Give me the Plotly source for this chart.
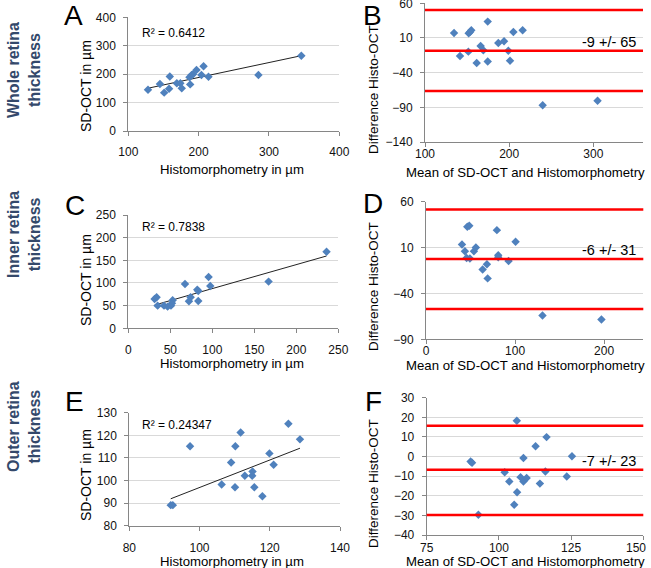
import plotly.graph_objects as go

W, H = 651, 568
FONT = "Liberation Sans, Arial, sans-serif"

# ---------------- data ----------------
# Panel A: whole retina (Histomorphometry vs SD-OCT)
a_histo = [128, 145, 151, 158, 159, 169, 174, 176, 188, 187, 190, 192, 197, 204, 207, 214, 285, 346]
a_oct = [145, 165, 135, 149, 192, 168, 168, 150, 164, 189, 197, 200, 215, 197, 228, 191, 197, 265]
a_fit = (0.525, 83.3)
a_r2 = "R\u00b2 = 0.6412"

# Panel B: Bland-Altman whole retina
b_mean = [134.5, 141.6, 151.5, 151.9, 153.5, 155, 161.4, 166.1, 169.3, 174.5, 174.5, 187.1, 193.9, 199, 201, 205, 216, 239.8, 305]
b_diff = [17.2, -16, -9.7, 16.7, 18.7, 21, -26, -1.5, -7.8, 33.6, -24, 2.8, 5.2, -8.3, -22.7, 18.7, 21, -87, -80.4]
b_limits = [50.4, -8.5, -66.5]
b_label = "-9 +/- 65"

# Panel C: inner retina
c_histo = [31.3, 33.7, 34.9, 42.5, 46.8, 50.8, 52.8, 52, 67.5, 72.2, 74.2, 82.1, 83.3, 83.3, 95.6, 97.6, 167, 236]
c_oct = [64.7, 68.4, 50, 50, 47.8, 50, 61.8, 55, 97.8, 59.6, 68.4, 85.3, 82.4, 60.3, 113, 93.4, 103, 169]
c_fit = (0.529, 34.7)
c_r2 = "R\u00b2 = 0.7838"

# Panel D: Bland-Altman inner retina
d_mean = [40.4, 43.7, 45.6, 46.4, 48.6, 49.3, 53.8, 56, 63.6, 68.4, 69.2, 79.6, 81.1, 81.1, 92.7, 100.6, 130.8, 197]
d_diff = [13.3, 6, -1.3, 32.7, 33.8, -2, 6, 10, -14, -8.2, -23.6, 29, 1.6, -0.6, -4.7, 16.4, -64, -68.4]
d_limits = [51.6, -2.5, -57.1]
d_label = "-6 +/- 31"

# Panel E: outer retina
e_histo = [91.8, 92.4, 97.3, 106.3, 109, 110.1, 110.2, 111.7, 112.9, 115, 115.1, 115.6, 117.9, 119.9, 121.1, 125.3, 128.6]
e_oct = [89.1, 89.1, 115.2, 98.2, 108, 97, 115.2, 121.2, 102.1, 102.1, 104, 97, 93, 112, 107, 125.1, 118.2]
e_fit = (0.608, 36.1)
e_r2 = "R\u00b2 = 0.24347"

# Panel F: Bland-Altman outer retina
f_mean = [90.2, 90.7, 92.9, 102, 103.6, 105.3, 106.2, 106.3, 107.5, 108.5, 108.5, 109.6, 112.7, 114.2, 116.1, 116.5, 123.5, 125.3]
f_diff = [-2.5, -3.2, -29.7, -8, -12.7, -24.6, 18.3, -18.2, -10.5, -0.7, -12.7, -10.9, 5.3, -13.8, -7.6, 9.9, -10.2, 0.2]
f_limits = [15.7, -6.7, -29.8]
f_label = "-7 +/- 23"
f_xticks = [75, 100, 125, 150]

row_labels = ["Whole retina<br>thickness", "Inner retina<br>thickness", "Outer retina<br>thickness"]
panel_letters = ["A", "B", "C", "D", "E", "F"]
x_titles = ["Histomorphometry in \u00b5m", "Mean of SD-OCT and Histomorphometry"]
y_titles = ["SD-OCT in \u00b5m", "Difference Histo-OCT"]

# ---------------- layout helpers ----------------
def px(x):
    return x / W

def py(y):
    return 1 - y / H

BLUE = "#4F81BD"
RED = "#FF0000"
AXC = "#868686"
GRID = "#D9D9D9"

# pixel boxes (left, right, top, bottom) and ranges / ticks per panel
panels = [
    dict(box=(128.3, 339.3, 17.3, 131.0), xr=[100, 400], xd=100, x0=100, yr=[0, 400], yd=100, y0=0, xs=6),
    dict(box=(425.0, 643.0, 3.3, 142.0), xr=[100, 359], xd=100, x0=100, yr=[-140, 60], yd=50, y0=-140, xs=-3),
    dict(box=(128.3, 338.3, 215.0, 328.3), xr=[0, 250], xd=50, x0=0, yr=[0, 250], yd=50, y0=0, xs=6),
    dict(box=(426.0, 643.3, 201.7, 339.3), xr=[0, 244], xd=100, x0=0, yr=[-90, 60], yd=50, y0=-90, xs=-4),
    dict(box=(129.3, 340.0, 412.7, 525.7), xr=[80, 140], xd=20, x0=80, yr=[80, 130], yd=10, y0=80, xs=7),
    dict(box=(426.7, 643.3, 397.7, 535.0), xr=[75, 150], xd=25, x0=75, yr=[-40, 30], yd=10, y0=-40, xs=-2),
]

fig = go.Figure()
layout = dict(
    width=W, height=H,
    margin=dict(l=0, r=0, t=0, b=0),
    paper_bgcolor="white", plot_bgcolor="white",
    showlegend=False,
    font=dict(family=FONT, color="#000000"),
)

TICKFONT = dict(size=12, family=FONT, color="#111111")
for i, p in enumerate(panels):
    n = "" if i == 0 else str(i + 1)
    l, r, t, b = p["box"]
    layout["xaxis" + n] = dict(
        domain=[px(l), px(r)], range=p["xr"], tick0=p["x0"], dtick=p["xd"],
        anchor="y" + n, showgrid=False, zeroline=False, showline=True,
        linecolor=AXC, linewidth=1, ticks="outside", ticklen=4, tickcolor=AXC,
        tickfont=TICKFONT, ticklabelstandoff=p["xs"], fixedrange=True, automargin=False,
        ticklabeloverflow="allow",
    )
    layout["yaxis" + n] = dict(
        domain=[py(b), py(t)], range=p["yr"], tick0=p["y0"], dtick=p["yd"],
        anchor="x" + n, showgrid=True, gridcolor=GRID, gridwidth=1, zeroline=False,
        showline=True, linecolor=AXC, linewidth=1, ticks="outside", ticklen=4,
        tickcolor=AXC, tickfont=TICKFONT, ticklabelstandoff=5, fixedrange=True,
        automargin=False, ticklabeloverflow="allow",
    )

# last F tick label is drawn as an annotation pulled inside the page edge
layout["xaxis6"].update(tickmode="array", tickvals=f_xticks,
                        ticktext=[str(v) for v in f_xticks[:-1]] + [""])

scatter_sets = [
    (a_histo, a_oct), (b_mean, b_diff), (c_histo, c_oct),
    (d_mean, d_diff), (e_histo, e_oct), (f_mean, f_diff),
]
fits = {0: (a_fit, a_histo, a_r2), 2: (c_fit, c_histo, c_r2), 4: (e_fit, e_histo, e_r2)}
limits = {1: (b_limits, b_label), 3: (d_limits, d_label), 5: (f_limits, f_label)}

shapes = []
annotations = []

for i, (xs, ys) in enumerate(scatter_sets):
    n = "" if i == 0 else str(i + 1)
    xa, ya = "x" + n, "y" + n
    if i in fits:
        (m, c), xsrc, r2 = fits[i]
        xmin, xmax = min(xsrc), max(xsrc)
        fig.add_trace(go.Scatter(
            x=[xmin, xmax], y=[m * xmin + c, m * xmax + c], mode="lines",
            line=dict(color="#222222", width=1), xaxis=xa, yaxis=ya, hoverinfo="skip"))
    if i in limits:
        lims, lab = limits[i]
        for v in lims:
            shapes.append(dict(type="line", xref=xa + " domain", yref=ya, x0=0, x1=1,
                               y0=v, y1=v, line=dict(color=RED, width=2.5), layer="above"))
    fig.add_trace(go.Scatter(
        x=xs, y=ys, mode="markers", xaxis=xa, yaxis=ya,
        marker=dict(symbol="diamond", size=6.5, color=BLUE, line=dict(width=0))))
    if i in limits:
        lims, lab = limits[i]
        annotations.append(dict(text=lab, xref=xa + " domain", yref=ya, x=1, y=lims[1],
                                xanchor="right", yanchor="bottom", xshift=-5, yshift=-1,
                                showarrow=False, font=dict(size=14.5, family=FONT, color="#000")))
    if i in fits:
        (m, c), xsrc, r2 = fits[i]
        r2_y = {0: 33, 2: 227, 4: 425}[i]
        annotations.append(dict(text=r2, xref="paper", yref="paper", x=px(140), y=py(r2_y),
                                xanchor="left", yanchor="middle", showarrow=False,
                                font=dict(size=12, family=FONT, color="#000")))

annotations.append(dict(text=str(f_xticks[-1]), xref="x6", yref="paper", x=f_xticks[-1],
                        y=py(548), xanchor="right", yanchor="middle", xshift=5,
                        showarrow=False, font=TICKFONT))

# panel letters
letter_pos = [(73, 15), (372, 15), (75, 205), (373, 203), (74, 402), (373, 402)]
for t, (x, y) in zip(panel_letters, letter_pos):
    annotations.append(dict(text=t, xref="paper", yref="paper", x=px(x), y=py(y),
                            xanchor="center", yanchor="middle", showarrow=False,
                            font=dict(size=28, family=FONT, color="#000")))

# axis titles
xt_pos = [(232, 169), (525, 172), (232, 363), (525, 365), (232, 561), (525, 561)]
yt_pos = [(86, 86), (373, 90), (86, 280), (373, 287), (86, 475), (373, 484)]
for i in range(6):
    x, y = xt_pos[i]
    annotations.append(dict(text=x_titles[i % 2], xref="paper", yref="paper", x=px(x), y=py(y),
                            xanchor="center", yanchor="middle", showarrow=False,
                            font=dict(size=13.2, family=FONT, color="#000")))
    x, y = yt_pos[i]
    annotations.append(dict(text=y_titles[i % 2], xref="paper", yref="paper", x=px(x), y=py(y),
                            xanchor="center", yanchor="middle", showarrow=False, textangle=-90,
                            font=dict(size=14 if i % 2 == 0 else 13.5, family=FONT, color="#000")))

# row labels
row_y = [70, 235, 427]
for t, y in zip(row_labels, row_y):
    annotations.append(dict(text="<b>" + t + "</b>", xref="paper", yref="paper", x=px(24), y=py(y),
                            xanchor="center", yanchor="middle", showarrow=False, textangle=-90,
                            font=dict(size=16, family=FONT, color="#34496B")))

layout["shapes"] = shapes
layout["annotations"] = annotations
fig.update_layout(**layout)
fig.write_html(
    "out.html",
    config={"displayModeBar": False},
    post_script="document.body.style.margin='0';document.body.style.overflow='hidden';",
)
